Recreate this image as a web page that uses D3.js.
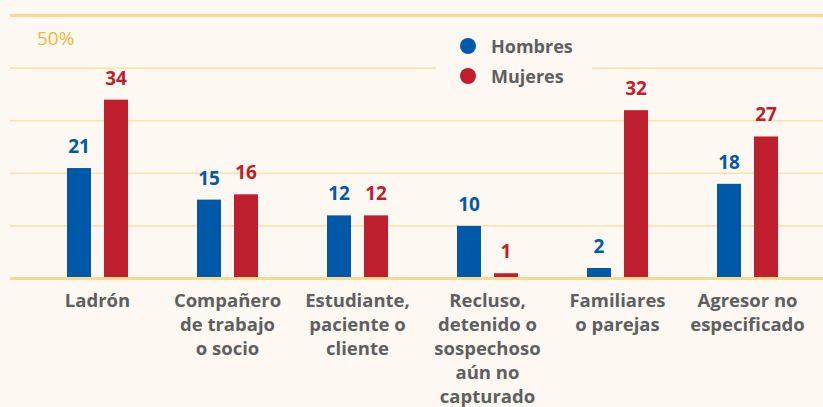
<!DOCTYPE html>
<html><head><meta charset="utf-8">
<script src="https://cdn.jsdelivr.net/npm/d3@7"></script>
<style>
html,body{margin:0;padding:0;background:#fdf8f1;}
svg{display:block;}
</style></head>
<body>
<svg id="chart" width="823" height="407"></svg>
<script>
const categories = ["Ladrón","Compañero de trabajo o socio","Estudiante, paciente o cliente","Recluso, detenido o sospechoso aún no capturado","Familiares o parejas","Agresor no especificado"];
const categoryLines = [["Ladrón"],["Compañero","de trabajo","o socio"],["Estudiante,","paciente o","cliente"],["Recluso,","detenido o","sospechoso","aún no","capturado"],["Familiares","o parejas"],["Agresor no","especificado"]];
const seriesNames = ["Hombres","Mujeres"];
const hombres = [21,15,12,10,2,18];
const mujeres = [34,16,12,1,32,27];
const gridTicks = [0,10,20,30,40,50];
const topLabel = "50%";

const colors = {Hombres:"#0059a8", Mujeres:"#be1e2d"};
const svg = d3.select("#chart");
const W = 823;
const font = "'Open Sans', sans-serif";

const y = d3.scaleLinear().domain([0,50]).range([278.5,15.5]);
const x0 = d3.scaleBand().domain(categories).range([32.5,812.5]).paddingInner(0);
const x1 = d3.scaleBand().domain(seriesNames).range([34.5,95.5]).paddingInner(0.3514).paddingOuter(0);

// gridlines
const grid = svg.append("g");
grid.selectAll("line").data(gridTicks).join("line")
  .attr("x1",10).attr("x2",W)
  .attr("y1",d=>y(d)).attr("y2",d=>y(d))
  .attr("stroke",d=>(d===0||d===50)?"#fbd995":"#fbe2b0")
  .attr("stroke-width",d=>(d===0||d===50)?3:1.6);

// top label
svg.append("text").attr("x",37).attr("y",y(50)+29)
  .attr("font-family",font).attr("font-size",19).attr("fill","#f5b537")
  .text(topLabel);

// bars
const data = categories.map((c,i)=>({cat:c, values:[{s:"Hombres",v:hombres[i]},{s:"Mujeres",v:mujeres[i]}]}));
const groups = svg.append("g").selectAll("g").data(data).join("g")
  .attr("transform",d=>`translate(${x0(d.cat)},0)`);
groups.selectAll("rect").data(d=>d.values).join("rect")
  .attr("x",d=>x1(d.s)).attr("width",x1.bandwidth())
  .attr("y",d=>y(d.v)).attr("height",d=>y(0)-y(d.v)-1)
  .attr("fill",d=>colors[d.s]);
groups.selectAll("text").data(d=>d.values).join("text")
  .attr("x",d=>x1(d.s)+x1.bandwidth()/2)
  .attr("y",d=>y(d.v)-15)
  .attr("text-anchor","middle")
  .attr("font-family",font).attr("font-weight",700).attr("font-size",19)
  .attr("fill",d=>colors[d.s])
  .text(d=>d.v);

// baseline on top
svg.append("line").attr("x1",10).attr("x2",W).attr("y1",y(0)).attr("y2",y(0))
  .attr("stroke","#fbd995").attr("stroke-width",3);

// category labels
const xl = svg.append("g").selectAll("text").data(categories).join("text")
  .attr("text-anchor","middle")
  .attr("font-family",font).attr("font-weight",700).attr("font-size",18.5)
  .attr("fill","#5f5f5f");
xl.each(function(d,i){
  const t = d3.select(this);
  categoryLines[i].forEach((ln,j)=>{
    t.append("tspan").attr("x",x0(d)+x0.bandwidth()/2).attr("y",307+j*24).text(ln);
  });
});

// legend
const lg = svg.append("g");
lg.append("rect").attr("x",436).attr("y",55).attr("width",156).attr("height",25).attr("fill","#fdf8f1");
seriesNames.forEach((s,i)=>{
  lg.append("circle").attr("cx",468).attr("cy",46+i*30).attr("r",8).attr("fill",colors[s]);
  lg.append("text").attr("x",491).attr("y",52.5+i*30)
    .attr("font-family",font).attr("font-weight",700).attr("font-size",18)
    .attr("fill","#5f5f5f").text(s);
});
</script>
</body></html>
